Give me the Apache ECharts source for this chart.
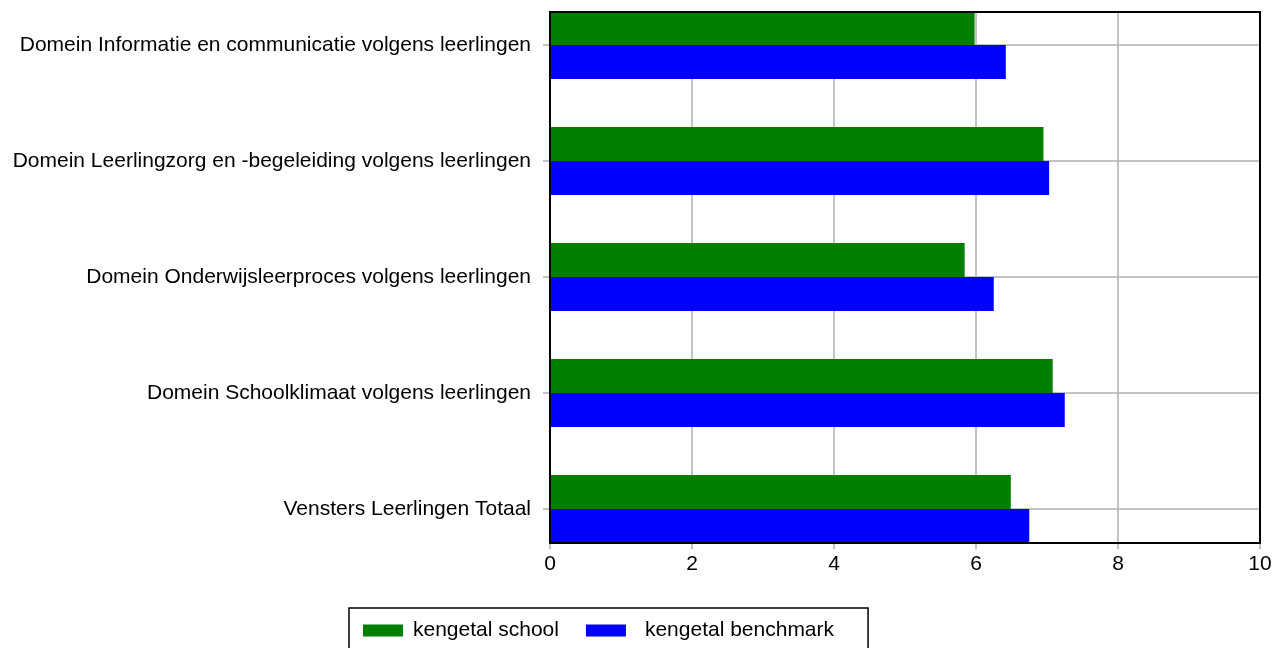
<!DOCTYPE html>
<html>
<head>
<meta charset="utf-8">
<script src="https://cdn.jsdelivr.net/npm/echarts@6/dist/echarts.min.js"></script>
<style>
  html, body { margin: 0; padding: 0; background: #fff; }
  #chart { width: 1273px; height: 648px; }
</style>
</head>
<body>
<div id="chart"></div>
<script>
// categories, top to bottom
var categories = [
    'Domein Informatie en communicatie volgens leerlingen',
    'Domein Leerlingzorg en -begeleiding volgens leerlingen',
    'Domein Onderwijsleerproces volgens leerlingen',
    'Domein Schoolklimaat volgens leerlingen',
    'Vensters Leerlingen Totaal'
];
var seriesNames = ['kengetal school', 'kengetal benchmark'];
var school = [5.98, 6.95, 5.84, 7.08, 6.49];
var benchmark = [6.42, 7.03, 6.25, 7.25, 6.75];
var xTicks = [0, 2, 4, 6, 8, 10];

var font = 'Liberation Sans, Arial, sans-serif';
var fs = 21;
var gridGray = '#b0b0b0';

var myChart = echarts.init(document.getElementById('chart'));

// frame lines, drawn above the bars
function frameAxis(pos, grid) {
    return {
        gridIndex: grid,
        type: 'value',
        position: pos,
        min: xTicks[0],
        max: xTicks[xTicks.length - 1],
        z: 10,
        axisLine: { show: true, onZero: false, lineStyle: { color: '#000', width: 2 } },
        axisTick: { show: false },
        axisLabel: { show: false },
        splitLine: { show: false }
    };
}

myChart.setOption({
    animation: false,
    textStyle: { fontFamily: font },
    grid: [
        { left: 550, top: 12, width: 710, height: 531, outerBoundsMode: 'none' },   // frame + value axis
        { left: 550, top: -13, width: 710, height: 580, outerBoundsMode: 'none' }   // bars
    ],
    xAxis: [
        {
            gridIndex: 0,
            type: 'value',
            min: xTicks[0],
            max: xTicks[xTicks.length - 1],
            interval: 2,
            axisLine: { show: false, onZero: false },
            axisTick: { show: true, length: 6, lineStyle: { color: gridGray, width: 1.5 } },
            axisLabel: { color: '#000', fontSize: fs, margin: 11, fontFamily: font },
            splitLine: { show: true, lineStyle: { color: gridGray, width: 1.5 } }
        },
        {
            gridIndex: 1,
            type: 'value',
            min: xTicks[0],
            max: xTicks[xTicks.length - 1],
            show: false
        },
        frameAxis('top', 0),
        frameAxis('bottom', 0)
    ],
    yAxis: [
        frameAxis('left', 0),
        {
            gridIndex: 1,
            type: 'category',
            inverse: true,
            data: categories,
            axisLine: { show: false },
            axisTick: { show: true, alignWithLabel: true, length: 7, lineStyle: { color: gridGray, width: 1.5 } },
            axisLabel: { color: '#000', fontSize: fs, margin: 19, fontFamily: font },
            splitLine: { show: false }
        },
        frameAxis('right', 0)
    ],
    legend: {
        left: 349,
        top: 608,
        orient: 'horizontal',
        icon: 'rect',
        itemWidth: 40,
        itemHeight: 12,
        itemGap: 27,
        padding: [12, 34, 40, 14],
        borderColor: '#000',
        borderWidth: 1.5,
        data: [
            { name: seriesNames[0] },
            { name: seriesNames[1], textStyle: { padding: [0, 0, 0, 14] } }
        ],
        textStyle: { color: '#000', fontSize: fs, fontFamily: font, padding: [0, 0, 0, 5] }
    },
    series: [
        {
            name: seriesNames[0],
            type: 'bar',
            xAxisIndex: 1,
            yAxisIndex: 1,
            barWidth: 34,
            barGap: '0%',
            z: 3,
            itemStyle: { color: '#008000' },
            data: school
        },
        {
            name: seriesNames[1],
            type: 'bar',
            xAxisIndex: 1,
            yAxisIndex: 1,
            barWidth: 34,
            barGap: '0%',
            z: 3,
            itemStyle: { color: '#0000ff' },
            data: benchmark
        },
        {
            // horizontal grid lines through the category centres
            name: 'grid',
            type: 'line',
            xAxisIndex: 1,
            yAxisIndex: 1,
            data: [],
            silent: true,
            z: 1,
            markLine: {
                silent: true,
                z: 1,
                symbol: 'none',
                label: { show: false },
                lineStyle: { color: gridGray, width: 1.5, type: 'solid' },
                data: categories.map(function (c) { return { yAxis: c }; })
            }
        }
    ]
});
</script>
</body>
</html>
